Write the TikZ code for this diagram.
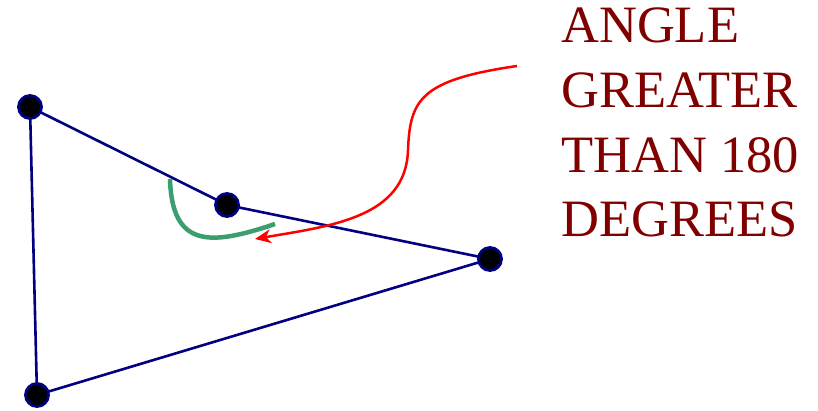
\documentclass[tikz,border=0pt]{standalone}
\usepackage{fontspec}
\setmainfont{Liberation Serif}
\usetikzlibrary{arrows.meta}
\definecolor{navyb}{HTML}{000080}
\definecolor{dred}{HTML}{800000}
\definecolor{agreen}{HTML}{3A9E6E}
\tikzset{
  vert/.style={circle, fill=black, draw=navyb, line width=2.8pt, minimum size=23pt, inner sep=0pt},
  edge/.style={draw=navyb, line width=2.6pt},
  lbl/.style={anchor=base west, inner sep=0pt, text=dred, font=\fontsize{52.5}{60}\selectfont}
}
\begin{document}
\begin{tikzpicture}[x=1pt,y=-1pt]
\useasboundingbox (0,0) rectangle (818,411);
\coordinate (a) at (30,107);
\coordinate (b) at (227,205);
\coordinate (c) at (490,259);
\coordinate (d) at (37,395);
\path[edge] (a) -- (b) -- (c) -- (d) -- cycle;
\draw[agreen, line width=4.5pt] (170,179) .. controls (172,248) and (210,246) .. (275,224);
\coordinate (rs) at (517,66);
\coordinate (rm) at (408,150);
\coordinate (re) at (255,239);
\draw[red, line width=2.5pt, -{Stealth[length=16pt, width=14pt, inset=5pt]}] (rs) .. controls (420,80) and (410,100) .. (rm) .. controls (406,218) and (330,226) .. (re);
\node[vert] (va) at (a) {};
\node[vert] (vb) at (b) {};
\node[vert] (vc) at (c) {};
\node[vert] (vd) at (d) {};
\node[lbl] (l1) at (561,43) {ANGLE};
\node[lbl] (l2) at (561,108) {GREATER};
\node[lbl] (l3) at (561,173) {THAN 180};
\node[lbl] (l4) at (561,237) {DEGREES};
\end{tikzpicture}
\end{document}
